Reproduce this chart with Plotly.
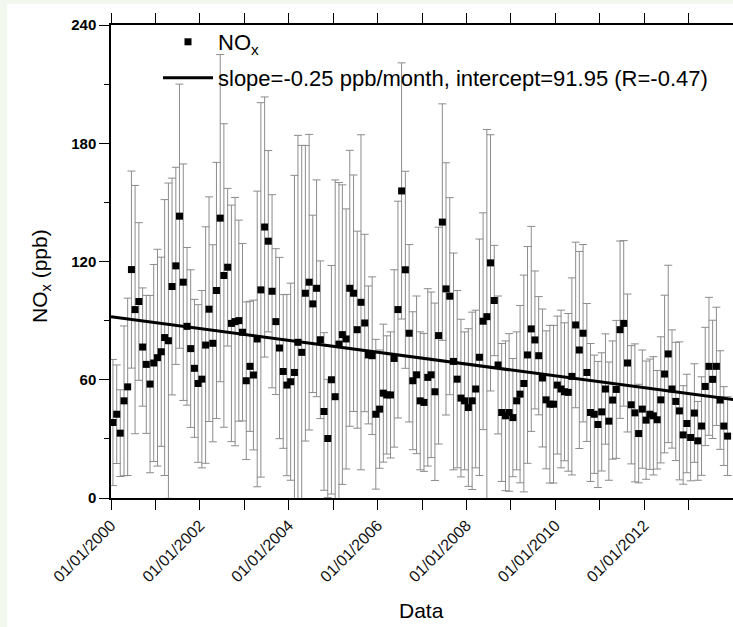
import plotly.graph_objects as go
import pandas as pd

# Monthly NOx means (ppb), Jan 2000 onwards
nox = [
    38.3, 42.5, 32.9, 49.3, 56.4, 115.9, 95.6, 99.7, 76.6, 67.8, 57.8, 68.5,
    71.2, 74.2, 81.4, 79.8, 107.3, 117.8, 143.0, 109.5, 87.1, 75.8, 65.8, 58.1,
    60.3, 77.6, 95.8, 78.5, 105.3, 142.0, 112.9, 117.1, 88.6, 89.5, 90.0, 84.1,
    59.5, 66.8, 62.4, 80.7, 105.6, 137.5, 130.3, 104.9, 89.5, 76.1, 64.2, 57.3,
    59.0, 63.7, 79.0, 73.9, 103.9, 109.5, 98.5, 106.4, 80.3, 43.9, 30.2, 60.0,
    51.4, 78.1, 82.9, 80.7, 106.4, 103.9, 85.4, 99.3, 88.8, 72.6, 72.2, 42.5,
    45.1, 53.2, 52.3, 52.3, 70.8, 95.6, 155.8, 115.8, 83.6, 59.5, 62.5, 49.3,
    48.5, 61.2, 62.5, 53.9, 82.4, 140.0, 106.1, 102.4, 69.3, 60.3, 50.7, 49.3,
    45.9, 49.3, 55.3, 71.4, 89.7, 92.0, 119.3, 100.2, 67.5, 43.4, 41.7, 43.4,
    40.8, 49.3, 52.7, 58.1, 72.6, 85.8, 80.2, 72.2, 60.9, 49.8, 47.6, 47.6,
    57.3, 55.3, 53.9, 53.6, 61.7, 87.8, 75.1, 83.6, 63.7, 43.4, 42.5, 37.3,
    43.7, 55.3, 39.0, 49.7, 55.1, 85.4, 88.6, 68.5, 47.3, 43.2, 32.7, 45.1,
    39.5, 42.5, 41.7, 39.7, 49.8, 62.9, 73.1, 55.3, 49.0, 44.2, 32.0, 37.8,
    30.7, 43.1, 29.0, 36.5, 56.6, 66.8, 60.2, 66.8, 49.7, 36.5, 31.4,
]

# Error bar half-lengths (ppb)
nox_err = [
    32, 25, 22, 38, 45, 50, 63, 40, 30, 35, 45, 50,
    55, 48, 70, 80, 55, 50, 67, 60, 40, 40, 35, 40,
    45, 60, 57, 50, 65, 83, 77, 40, 60, 63, 51, 45,
    40, 33, 38, 75, 95, 66, 46, 49, 37, 46, 39, 46,
    50, 100, 105, 105, 75, 75, 45, 55, 40, 40, 30, 58,
    110, 82, 76, 66, 70, 60, 50, 85, 45, 35, 40, 38,
    30, 35, 30, 32, 45, 55, 65, 50, 45, 35, 40, 35,
    35, 45, 42, 45, 55, 60, 64, 50, 55, 45, 40, 35,
    40, 45, 40, 60, 55, 95, 65, 28, 35, 35, 38, 40,
    30, 35, 45, 55, 55, 52, 35, 30, 35, 35, 40, 40,
    35, 40, 35, 40, 50, 42, 50, 45, 35, 35, 30, 32,
    30, 28, 30, 30, 35, 45, 42, 35, 30, 35, 25, 30,
    30, 28, 30, 25, 32, 40, 45, 30, 30, 35, 25, 25,
    22, 25, 20, 25, 30, 35, 30, 30, 25, 20, 20,
]

# Linear fit parameters (per month since Jan 2000)
slope = -0.25
intercept = 91.95
r_value = -0.47

axis_start = "2000-01-01"
axis_end = "2013-12-31 12:00"
trend_months = [0, 168]

dates = pd.date_range(axis_start, periods=len(nox), freq="MS") + pd.Timedelta(days=16)
trend_x = [pd.Timestamp(axis_start) + pd.DateOffset(months=m) for m in trend_months]
trend_y = [intercept + slope * m for m in trend_months]

FONT = "Liberation Sans, Arial, sans-serif"

fig = go.Figure()
fig.add_trace(go.Scatter(
    x=dates, y=nox, mode="markers", name="NO<sub>x</sub>",
    marker=dict(symbol="square", size=7, color="black"),
    error_y=dict(type="data", array=nox_err, visible=True,
                 color="#8c8c8c", thickness=1, width=4),
    legend="legend", showlegend=True,
))
fig.add_trace(go.Scatter(
    x=trend_x, y=trend_y, mode="lines",
    name=f"slope={slope} ppb/month, intercept={intercept} (R={r_value})",
    line=dict(color="black", width=3),
    legend="legend2", showlegend=True,
))

W, H = 733, 627
ml, mr, mt, mb = 111, 0, 25, 129
pw, ph = W - ml - mr, H - mt - mb

def px(xp):
    return (xp - ml) / pw

def py(yp):
    return (H - mb - yp) / ph

green = "#f2f8ee"
fig.update_layout(
    width=W, height=H,
    margin=dict(l=ml, r=mr, t=mt, b=mb),
    paper_bgcolor="white", plot_bgcolor="white",
    font=dict(family=FONT, color="black"),
    showlegend=True,
    shapes=[
        dict(type="rect", xref="paper", yref="paper", layer="below",
             x0=px(0), x1=px(7), y0=py(H), y1=py(0),
             fillcolor=green, line=dict(width=0)),
        dict(type="rect", xref="paper", yref="paper", layer="below",
             x0=px(0), x1=px(W), y0=py(4), y1=py(0),
             fillcolor=green, line=dict(width=0)),
    ],
    annotations=[
        dict(text="NO<sub>x</sub> (ppb)", textangle=-90, showarrow=False,
             xref="paper", yref="paper", x=px(41), y=py(276),
             xanchor="center", yanchor="middle",
             font=dict(family=FONT, size=21, color="black")),
        dict(text="Data", showarrow=False,
             xref="paper", yref="paper", x=px(421), y=py(610),
             xanchor="center", yanchor="middle",
             font=dict(family=FONT, size=21, color="black")),
    ],
    legend=dict(x=px(158), y=py(42), xanchor="left", yanchor="middle",
                bgcolor="rgba(0,0,0,0)", itemwidth=50,
                font=dict(family=FONT, size=22, color="black")),
    legend2=dict(x=px(158), y=py(78), xanchor="left", yanchor="middle",
                 bgcolor="rgba(0,0,0,0)", itemwidth=50,
                 font=dict(family=FONT, size=22, color="black")),
    xaxis=dict(
        type="date", range=[axis_start, axis_end],
        tick0=axis_start, dtick="M24", tickformat="%d/%m/%Y",
        tickangle=-45, ticks="outside", ticklen=10, tickwidth=1.2,
        tickcolor="black",
        minor=dict(dtick="M12", tick0=axis_start, ticks="outside",
                   ticklen=10, tickwidth=1.2, tickcolor="black"),
        showline=True, linecolor="black", linewidth=1.5, mirror="ticks",
        showgrid=False, zeroline=False,
        tickfont=dict(family=FONT, size=16, color="#111"),
    ),
    yaxis=dict(
        range=[0, 240], tick0=0, dtick=60,
        ticks="outside", ticklen=10, tickwidth=1.2, tickcolor="black",
        minor=dict(dtick=30, ticks="outside", ticklen=5, tickwidth=1.2,
                   tickcolor="black"),
        showline=True, linecolor="black", linewidth=1.5,
        showgrid=False, zeroline=False,
        tickfont=dict(family=FONT, size=15, color="black", weight="bold"),
    ),
)

fig.write_html("out.html")
